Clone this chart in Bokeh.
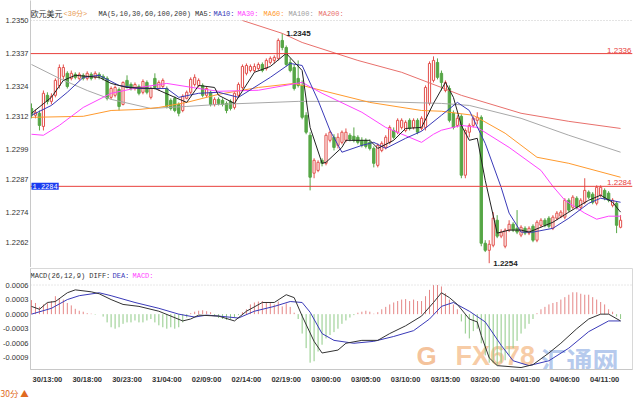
import math
from bokeh.plotting import figure
from bokeh.layouts import column
from bokeh.models import Range1d, FixedTicker, NumeralTickFormatter, Span, Label, Title, ColumnDataSource
from bokeh.embed import file_html
from bokeh.resources import INLINE

# ---------------- data (EUR/USD, 30-minute bars) ----------------
open_ = [
    1.23152, 1.23125, 1.23133, 1.23081, 1.23204, 1.23180, 1.23204, 1.23243, 1.23279, 1.23291,
    1.23271, 1.23287, 1.23271, 1.23283, 1.23271, 1.23287, 1.23275, 1.23287, 1.23279, 1.23271,
    1.23196, 1.23204, 1.23227, 1.23168, 1.23263, 1.23247, 1.23231, 1.23239, 1.23216, 1.23255,
    1.23196, 1.23271, 1.23231, 1.23239, 1.23231, 1.23184, 1.23192, 1.23168, 1.23144, 1.23192,
    1.23216, 1.23247, 1.23243, 1.23243, 1.23204, 1.23216, 1.23168, 1.23188, 1.23184, 1.23172,
    1.23180, 1.23156, 1.23204, 1.23235, 1.23291, 1.23302, 1.23302, 1.23310, 1.23326, 1.23310,
    1.23334, 1.23342, 1.23350, 1.23421, 1.23393, 1.23334, 1.23314, 1.23271, 1.23243, 1.23125,
    1.23046, 1.22896, 1.22907, 1.22947, 1.22935, 1.23026, 1.23038, 1.23006, 1.23018, 1.23026,
    1.23046, 1.23042, 1.23038, 1.23026, 1.23026, 1.23018, 1.22994, 1.22927, 1.22986, 1.22998,
    1.23018, 1.23065, 1.23058, 1.23077, 1.23065, 1.23105, 1.23077, 1.23105, 1.23073, 1.23077,
    1.23172, 1.23263, 1.23334, 1.23291, 1.23223, 1.23231, 1.23133, 1.23085, 1.23121, 1.22888,
    1.23058, 1.23085, 1.23105, 1.23117, 1.22619, 1.22591, 1.22611, 1.22710, 1.22647, 1.22607,
    1.22671, 1.22694, 1.22678, 1.22651, 1.22678, 1.22659, 1.22686, 1.22631, 1.22690, 1.22710,
    1.22718, 1.22678, 1.22718, 1.22726, 1.22722, 1.22789, 1.22761, 1.22797, 1.22761, 1.22781,
    1.22821, 1.22813, 1.22777, 1.22809, 1.22828, 1.22817, 1.22769, 1.22777, 1.22682,
]
high_ = [
    1.23172, 1.23148, 1.23144, 1.23223, 1.23216, 1.23212, 1.23271, 1.23326, 1.23326, 1.23299,
    1.23302, 1.23295, 1.23295, 1.23291, 1.23299, 1.23295, 1.23299, 1.23295, 1.23287, 1.23279,
    1.23239, 1.23243, 1.23235, 1.23259, 1.23283, 1.23255, 1.23255, 1.23247, 1.23267, 1.23263,
    1.23239, 1.23291, 1.23263, 1.23271, 1.23239, 1.23192, 1.23200, 1.23176, 1.23208, 1.23223,
    1.23275, 1.23287, 1.23271, 1.23251, 1.23239, 1.23223, 1.23196, 1.23196, 1.23192, 1.23180,
    1.23188, 1.23216, 1.23255, 1.23326, 1.23330, 1.23326, 1.23330, 1.23334, 1.23334, 1.23350,
    1.23358, 1.23362, 1.23429, 1.23450, 1.23401, 1.23350, 1.23326, 1.23342, 1.23263, 1.23137,
    1.23058, 1.22955, 1.22947, 1.22955, 1.23054, 1.23065, 1.23050, 1.23054, 1.23065, 1.23073,
    1.23054, 1.23077, 1.23046, 1.23038, 1.23034, 1.23030, 1.23002, 1.23014, 1.23022, 1.23046,
    1.23085, 1.23077, 1.23113, 1.23113, 1.23105, 1.23113, 1.23113, 1.23113, 1.23121, 1.23243,
    1.23338, 1.23358, 1.23350, 1.23302, 1.23263, 1.23243, 1.23144, 1.23125, 1.23129, 1.23073,
    1.23093, 1.23121, 1.23137, 1.23125, 1.22631, 1.22631, 1.22742, 1.22730, 1.22674, 1.22678,
    1.22710, 1.22702, 1.22750, 1.22690, 1.22686, 1.22686, 1.22694, 1.22710, 1.22718, 1.22718,
    1.22726, 1.22730, 1.22746, 1.22750, 1.22797, 1.22797, 1.22809, 1.22805, 1.22797, 1.22876,
    1.22828, 1.22821, 1.22848, 1.22848, 1.22836, 1.22825, 1.22797, 1.22785, 1.22730,
]
low_ = [
    1.23113, 1.23113, 1.23065, 1.23065, 1.23168, 1.23168, 1.23196, 1.23231, 1.23267, 1.23231,
    1.23263, 1.23267, 1.23263, 1.23263, 1.23263, 1.23263, 1.23267, 1.23267, 1.23263, 1.23184,
    1.23188, 1.23196, 1.23144, 1.23164, 1.23231, 1.23223, 1.23223, 1.23204, 1.23208, 1.23208,
    1.23188, 1.23227, 1.23223, 1.23231, 1.23152, 1.23144, 1.23137, 1.23121, 1.23137, 1.23188,
    1.23208, 1.23239, 1.23235, 1.23196, 1.23196, 1.23160, 1.23160, 1.23164, 1.23160, 1.23133,
    1.23144, 1.23148, 1.23196, 1.23227, 1.23283, 1.23295, 1.23295, 1.23302, 1.23295, 1.23302,
    1.23326, 1.23330, 1.23342, 1.23382, 1.23318, 1.23295, 1.23223, 1.23235, 1.23109, 1.23050,
    1.22828, 1.22876, 1.22900, 1.22923, 1.22927, 1.23018, 1.22986, 1.22994, 1.23010, 1.23018,
    1.23022, 1.23018, 1.23010, 1.22998, 1.22994, 1.22986, 1.22919, 1.22919, 1.22979, 1.22990,
    1.23010, 1.23030, 1.23050, 1.23069, 1.23058, 1.23065, 1.23069, 1.23050, 1.23065, 1.23065,
    1.23164, 1.23255, 1.23267, 1.23223, 1.23216, 1.23097, 1.23069, 1.23077, 1.22876, 1.22876,
    1.23038, 1.23077, 1.23089, 1.22607, 1.22584, 1.22540, 1.22603, 1.22639, 1.22639, 1.22599,
    1.22663, 1.22663, 1.22655, 1.22643, 1.22651, 1.22651, 1.22623, 1.22623, 1.22682, 1.22682,
    1.22678, 1.22671, 1.22710, 1.22718, 1.22714, 1.22742, 1.22753, 1.22753, 1.22753, 1.22773,
    1.22793, 1.22773, 1.22769, 1.22801, 1.22789, 1.22781, 1.22761, 1.22659, 1.22678,
]
close_ = [
    1.23125, 1.23137, 1.23085, 1.23212, 1.23180, 1.23200, 1.23263, 1.23314, 1.23314, 1.23239,
    1.23291, 1.23275, 1.23287, 1.23271, 1.23291, 1.23271, 1.23291, 1.23279, 1.23271, 1.23192,
    1.23231, 1.23235, 1.23160, 1.23255, 1.23235, 1.23231, 1.23247, 1.23212, 1.23259, 1.23216,
    1.23231, 1.23235, 1.23255, 1.23263, 1.23160, 1.23152, 1.23144, 1.23133, 1.23200, 1.23216,
    1.23267, 1.23275, 1.23263, 1.23204, 1.23231, 1.23168, 1.23188, 1.23172, 1.23168, 1.23144,
    1.23152, 1.23212, 1.23247, 1.23318, 1.23322, 1.23318, 1.23318, 1.23326, 1.23302, 1.23342,
    1.23350, 1.23354, 1.23421, 1.23393, 1.23326, 1.23302, 1.23231, 1.23243, 1.23117, 1.23058,
    1.22880, 1.22947, 1.22939, 1.22935, 1.23046, 1.23058, 1.22998, 1.23038, 1.23058, 1.23058,
    1.23030, 1.23026, 1.23018, 1.23006, 1.23002, 1.22994, 1.22935, 1.23006, 1.23014, 1.23038,
    1.23077, 1.23038, 1.23105, 1.23105, 1.23097, 1.23073, 1.23105, 1.23058, 1.23113, 1.23235,
    1.23330, 1.23342, 1.23275, 1.23255, 1.23255, 1.23105, 1.23077, 1.23113, 1.22888, 1.23065,
    1.23085, 1.23113, 1.23117, 1.22619, 1.22591, 1.22615, 1.22718, 1.22647, 1.22663, 1.22671,
    1.22694, 1.22671, 1.22663, 1.22682, 1.22659, 1.22678, 1.22631, 1.22702, 1.22710, 1.22690,
    1.22686, 1.22722, 1.22738, 1.22742, 1.22789, 1.22750, 1.22801, 1.22761, 1.22789, 1.22828,
    1.22801, 1.22781, 1.22840, 1.22840, 1.22797, 1.22789, 1.22789, 1.22690, 1.22710,
]

# moving averages (at sample bars)
ma5_x = [0, 5, 8, 11, 17, 20, 24, 31, 36, 39, 42, 46, 47, 51, 56, 60, 64, 68, 70, 73,
         74, 78, 79, 85, 87, 91, 94, 98, 101, 104, 106, 108, 110, 112, 114, 117, 120, 123, 125, 131,
         135, 140, 143, 146, 148]
ma5_y = [1.23133, 1.23196, 1.23263, 1.23283, 1.23275, 1.23251, 1.23235, 1.23231, 1.23196, 1.23176,
         1.23243, 1.23235, 1.23204, 1.23172, 1.23295, 1.23318, 1.23370, 1.23302, 1.23077, 1.22935,
         1.22939, 1.22998, 1.23026, 1.23026, 1.22994, 1.23026, 1.23073, 1.23077, 1.23172, 1.23255,
         1.23196, 1.23085, 1.23026, 1.23034, 1.22868, 1.22659, 1.22671, 1.22671, 1.22663, 1.22702,
         1.22742, 1.22789, 1.22809, 1.22781, 1.22742]
ma10_x = [0, 5, 9, 13, 17, 22, 27, 34, 37, 42, 47, 52, 60, 65, 68, 72, 75, 78, 83, 86,
          89, 94, 98, 103, 107, 110, 114, 118, 120, 123, 126, 131, 135, 140, 143, 148]
ma10_y = [1.23125, 1.23164, 1.23216, 1.23275, 1.23283, 1.23243, 1.23231, 1.23231, 1.23196, 1.23212,
          1.23216, 1.23196, 1.23275, 1.23330, 1.23322, 1.23184, 1.23065, 1.22979, 1.23006, 1.23018,
          1.22994, 1.23034, 1.23062, 1.23125, 1.23176, 1.23144, 1.23014, 1.22840, 1.22738, 1.22663,
          1.22663, 1.22678, 1.22718, 1.22777, 1.22797, 1.22781]
ma30_x = [0, 3, 7, 13, 20, 27, 34, 42, 47, 57, 68, 73, 83, 89, 98, 101, 103, 108, 112, 120,
          128, 131, 134, 139, 142, 145, 148]
ma30_y = [1.23050, 1.23046, 1.23085, 1.23156, 1.23212, 1.23235, 1.23251, 1.23231, 1.23220, 1.23224,
          1.23255, 1.23212, 1.23137, 1.23077, 1.23018, 1.23050, 1.23066, 1.23085, 1.23077, 1.22998,
          1.22907, 1.22844, 1.22789, 1.22738, 1.22714, 1.22726, 1.22726]
ma60_x = [0, 13, 20, 27, 32, 39, 47, 57, 66, 73, 85, 98, 103, 111, 119, 127, 135, 148]
ma60_y = [1.23117, 1.23121, 1.23144, 1.23148, 1.23156, 1.23176, 1.23208, 1.23235, 1.23251, 1.23223,
          1.23176, 1.23144, 1.23141, 1.23125, 1.23054, 1.22959, 1.22935, 1.22880]
ma100_x = [0, 7, 14, 20, 30, 39, 47, 67, 85, 103, 110, 123, 135, 148]
ma100_y = [1.23326, 1.23271, 1.23223, 1.23188, 1.23152, 1.23160, 1.23168, 1.23180, 1.23180, 1.23172,
           1.23164, 1.23113, 1.23046, 1.22979]
ma200_x = [53, 63, 68, 82, 93, 103, 108, 123, 135, 148]
ma200_y = [1.23500, 1.23449, 1.23413, 1.23342, 1.23295, 1.23235, 1.23204, 1.23133, 1.23101, 1.23073]

# MACD(26,12,9)
macd_hist = [
    0.00029, 0.00023, 0.00015, 0.00020, 0.00023, 0.00027, 0.00037, 0.00033, 0.00030, 0.00023,
    0.00018, 0.00011, 0.00007, 0.00005, 0.00002, 0.00001, -0.00001, 0.0, -0.00005, -0.00017,
    -0.00027, -0.00030, -0.00027, -0.00020, -0.00017, -0.00017, -0.00013, -0.00017, -0.00017, -0.00013,
    -0.00010, -0.00017, -0.00023, -0.00027, -0.00030, -0.00027, -0.00030, -0.00027, -0.00017, -0.00007,
    0.00002, 0.00005, 0.00007, 0.00008, 0.00006, 0.00004, -0.00004, -0.00008, -0.00010, -0.00012,
    -0.00010, -0.00006, -0.00002, 0.00004, 0.00010, 0.00020, 0.00024, 0.00026, 0.00027, 0.00024,
    0.00024, 0.00020, 0.00026, 0.00016, 0.00022, 0.00015, 0.00003, -0.00010, -0.00040, -0.00070,
    -0.00100, -0.00097, -0.00077, -0.00063, -0.00050, -0.00043, -0.00037, -0.00030, -0.00020, -0.00013,
    -0.00007, -0.00002, 0.00003, 0.00005, 0.00007, 0.00005, 0.00001, 0.00004, 0.00010, 0.00015,
    0.00020, 0.00024, 0.00027, 0.00030, 0.00031, 0.00027, 0.00030, 0.00027, 0.00027, 0.00037,
    0.00050, 0.00060, 0.00060, 0.00057, 0.00043, 0.00030, 0.00020, 0.00010, -0.00015, -0.00040,
    -0.00050, -0.00035, -0.00030, -0.00060, -0.00085, -0.00100, -0.00100, -0.00105, -0.00100, -0.00095,
    -0.00085, -0.00070, -0.00055, -0.00040, -0.00030, -0.00020, -0.00010, 0.00002, 0.00010, 0.00015,
    0.00020, 0.00023, 0.00025, 0.00030, 0.00035, 0.00040, 0.00045, 0.00045, 0.00042, 0.00040,
    0.00040, 0.00035, 0.00030, 0.00025, 0.00020, 0.00010, 0.00005, -0.00005, -0.00010,
]
diff_x = [0, 2, 4, 6, 9, 11, 15, 17, 20, 23, 27, 32, 35, 38, 40, 42, 47, 51, 54, 58,
          61, 64, 66, 68, 71, 73, 77, 79, 83, 87, 90, 94, 98, 101, 103, 105, 107, 110, 112, 113,
          115, 117, 123, 126, 130, 133, 137, 140, 143, 145, 148]
diff_y = [0.00016, 0.00010, 0.00024, 0.00026, 0.00044, 0.00050, 0.00046, 0.00042, 0.00030, 0.00020,
          0.00016, 0.00006, -0.00004, -0.00014, -0.00010, -0.00002, -0.00004, -0.00014, 0.00006, 0.00024,
          0.00024, 0.00040, 0.00034, -0.00004, -0.00056, -0.00080, -0.00074, -0.00060, -0.00054, -0.00054,
          -0.00040, -0.00024, -0.00004, 0.00024, 0.00044, 0.00034, 0.00020, -0.00010, -0.00016, -0.00044,
          -0.00090, -0.00106, -0.00110, -0.00104, -0.00080, -0.00060, -0.00030, -0.00010, 0.0, 0.0,
          -0.00014]
dea_x = [0, 5, 9, 12, 17, 20, 26, 32, 37, 41, 44, 47, 52, 56, 61, 65, 68, 70, 73, 76,
         81, 86, 91, 96, 100, 103, 106, 110, 114, 118, 121, 125, 130, 135, 140, 145, 148]
dea_y = [0.0, 0.00012, 0.00030, 0.00038, 0.00044, 0.00038, 0.00024, 0.00012, 0.0, -0.00006,
         -0.00002, -0.00004, -0.00008, 0.00006, 0.00016, 0.00026, 0.00024, 0.00004, -0.00040, -0.00054,
         -0.00060, -0.00056, -0.00046, -0.00034, -0.00010, 0.00016, 0.00024, 0.00006, -0.00016, -0.00064,
         -0.00096, -0.00106, -0.00096, -0.00070, -0.00036, -0.00014, -0.00014]

tick_bars = [4, 14, 24, 34, 44, 54, 64, 74, 84, 94, 104, 114, 124, 134, 144]
tick_labels = ["30/13:00", "30/18:00", "30/23:00", "31/04:00", "02/09:00", "02/14:00", "02/19:00",
               "03/00:00", "03/05:00", "03/10:00", "03/15:00", "03/20:00", "04/01:00", "04/06:00",
               "04/11:00"]
price_ticks = [1.2262, 1.2274, 1.2287, 1.2299, 1.2312, 1.2324, 1.2337, 1.2350]
macd_ticks = [-0.0009, -0.0006, -0.0003, 0.0, 0.0003, 0.0006]
level_hi = 1.23369
level_lo = 1.22844

# ---------------- styling ----------------
RED = "#e2504c"
GREEN = "#56a646"
W = 640
LB = 30
RB = 8
AX_FONT = "Liberation Sans"
MONO = "Liberation Mono, Noto Sans CJK SC"
CJK = "Noto Sans CJK SC"


def trunc4(v):
    return "%.4f" % (math.floor(v * 10000 + 1e-9) / 10000.0)


n = len(close_)
bars = list(range(n))
up = [c >= o for o, c in zip(open_, close_)]


def subset(flag):
    idx = [i for i in bars if up[i] == flag]
    return ColumnDataSource(dict(
        x=idx,
        top=[max(open_[i], close_[i]) for i in idx],
        bottom=[min(open_[i], close_[i]) for i in idx],
        high=[high_[i] for i in idx],
        low=[low_[i] for i in idx],
    ))


src_up = subset(True)
src_dn = subset(False)

x_rng = Range1d(-0.25, 151.0)

# ---------------- main price panel ----------------
MAIN_H = 267
p = figure(width=W, height=MAIN_H, x_range=x_rng, y_range=Range1d(1.22523, 1.23579),
           output_backend="svg", toolbar_location=None, title=None, x_axis_location=None,
           min_border_left=LB, min_border_right=RB, min_border_top=0, min_border_bottom=0,
           outline_line_color=None, background_fill_color="white", border_fill_color="white")
p.xgrid.visible = False
p.ygrid.visible = False
p.yaxis.ticker = FixedTicker(ticks=price_ticks)
p.yaxis.formatter = NumeralTickFormatter(format="0.0000")

# top dotted boundary
p.add_layout(Span(location=price_ticks[-1], dimension="width", line_color="#c8c8c8",
                  line_width=1, line_dash="1 2"))

# candles
p.segment(x0="x", y0="low", x1="x", y1="high", source=src_dn, line_color=GREEN, line_width=1)
p.vbar(x="x", top="top", bottom="bottom", width=0.6, source=src_dn,
       fill_color=GREEN, line_color=GREEN, line_width=1)
p.segment(x0="x", y0="low", x1="x", y1="high", source=src_up, line_color=RED, line_width=1)
p.vbar(x="x", top="top", bottom="bottom", width=0.55, source=src_up,
       fill_color="white", line_color=RED, line_width=1)

# moving averages
p.line(ma200_x, ma200_y, line_color="#e8706c", line_width=1)
p.line(ma100_x, ma100_y, line_color="#a8a8a8", line_width=1)
p.line(ma60_x, ma60_y, line_color="#ff9a2e", line_width=1)
p.line(ma30_x, ma30_y, line_color="#ff44ff", line_width=1)
p.line(ma10_x, ma10_y, line_color="#3a3ab8", line_width=1)
p.line(ma5_x, ma5_y, line_color="#222222", line_width=1)

# horizontal price levels
p.add_layout(Span(location=level_hi, dimension="width", line_color="#e8403c", line_width=1))
p.add_layout(Span(location=level_lo, dimension="width", line_color="#e8403c", line_width=1))
p.add_layout(Label(x=x_rng.end, y=level_hi, text=trunc4(level_hi), text_align="right",
                   text_baseline="bottom", x_offset=-1, y_offset=1, text_color="#e8403c",
                   text_font=AX_FONT, text_font_size="8px"))
p.add_layout(Label(x=x_rng.end, y=level_lo, text=trunc4(level_lo), text_align="right",
                   text_baseline="bottom", x_offset=-1, y_offset=1, text_color="#e8403c",
                   text_font=AX_FONT, text_font_size="8px"))
p.add_layout(Label(x=x_rng.start, y=level_lo, text=trunc4(level_lo), text_align="left",
                   text_baseline="middle", x_offset=1, text_color="white",
                   background_fill_color="#1a3cf0", text_font="Liberation Mono",
                   text_font_size="7px", padding=1))

# extreme markers
i_hi = max(bars, key=lambda i: high_[i])
i_lo = min(bars, key=lambda i: low_[i])
p.add_layout(Label(x=i_hi, y=high_[i_hi], text=trunc4(high_[i_hi]), x_offset=4,
                   text_baseline="middle", text_font=AX_FONT, text_font_style="bold",
                   text_font_size="8px", text_color="#222222"))
p.add_layout(Label(x=i_lo, y=low_[i_lo], text=trunc4(low_[i_lo]), x_offset=4,
                   text_baseline="middle", text_font=AX_FONT, text_font_style="bold",
                   text_font_size="8px", text_color="#222222"))

# title row
title_parts = [
    (0, "欧元美元", "#333333", CJK, "8px"),
    (33, "<30分>", "#e89a50", MONO, "7px"),
    (68, "MA(5,10,30,60,100,200) MA5:", "#333333", MONO, "7px"),
    (183, "MA10:", "#3a3ab8", MONO, "7px"),
    (207, "MA30:", "#ff44ff", MONO, "7px"),
    (233, "MA60:", "#ff9a2e", MONO, "7px"),
    (258, "MA100:", "#a0a0a0", MONO, "7px"),
    (288, "MA200:", "#e8706c", MONO, "7px"),
]
for sx, txt, col, fnt, fs in title_parts:
    p.add_layout(Label(x=sx, y=MAIN_H - 13, x_units="screen", y_units="screen", text=txt,
                       text_color=col, text_font=fnt, text_font_size=fs, text_baseline="middle"))

# ---------------- MACD panel ----------------
p2 = figure(width=W, height=400 - MAIN_H, x_range=x_rng, y_range=Range1d(-0.00114, 0.00094),
            output_backend="svg", toolbar_location=None, title=None,
            min_border_left=LB, min_border_right=RB, min_border_top=1, min_border_bottom=28,
            outline_line_color="#d8d8d8", background_fill_color="white", border_fill_color="white")
p2.xgrid.visible = False
p2.ygrid.visible = False
p2.yaxis.ticker = FixedTicker(ticks=macd_ticks)
p2.yaxis.formatter = NumeralTickFormatter(format="0.0000")
p2.xaxis.ticker = FixedTicker(ticks=tick_bars)
p2.xaxis.major_label_overrides = {t: l for t, l in zip(tick_bars, tick_labels)}

p2.add_layout(Span(location=macd_ticks[-1], dimension="width", line_color="#d0d0d0",
                   line_width=1, line_dash="1 2"))

# watermark (underneath the indicator lines)
p2.add_layout(Label(x=386, y=29, x_units="screen", y_units="screen", text="G",
                    text_color="#f0a870", text_alpha=0.7, text_font="Liberation Sans",
                    text_font_style="bold", text_font_size="26px", text_baseline="top",
                    level="underlay"))
p2.add_layout(Label(x=425, y=29, x_units="screen", y_units="screen", text="FX678",
                    text_color="#f6c396", text_alpha=0.85, text_font="Liberation Sans",
                    text_font_style="bold", text_font_size="27px", text_baseline="top",
                    level="underlay"))
p2.add_layout(Label(x=510, y=29, x_units="screen", y_units="screen", text="汇通网",
                    text_color="#a9c1ea", text_alpha=0.85, text_font=CJK,
                    text_font_style="bold", text_font_size="26px", text_baseline="top",
                    level="underlay"))

pos_x = [i for i in bars if macd_hist[i] >= 0]
neg_x = [i for i in bars if macd_hist[i] < 0]
p2.segment(x0=pos_x, y0=[0.0] * len(pos_x), x1=pos_x, y1=[macd_hist[i] for i in pos_x],
           line_color="#e58686", line_width=1)
p2.segment(x0=neg_x, y0=[0.0] * len(neg_x), x1=neg_x, y1=[macd_hist[i] for i in neg_x],
           line_color="#8fca86", line_width=1)
p2.line(dea_x, dea_y, line_color="#3a3ab8", line_width=1)
p2.line(diff_x, diff_y, line_color="#333333", line_width=1)

macd_parts = [
    (0, "MACD(26,12,9) DIFF:", "#333333"),
    (82, "DEA:", "#3a3ab8"),
    (102, "MACD:", "#ff44ff"),
]
for sx, txt, col in macd_parts:
    p2.add_layout(Label(x=sx, y=94, x_units="screen", y_units="screen", text=txt,
                        text_color=col, text_font=MONO, text_font_size="7px",
                        text_baseline="middle"))

# period selector in the bottom-left corner (placed in the border below the axis)
p2.add_layout(Title(text="30分 ▲", align="left", offset=-30, standoff=0,
                    vertical_align="top",
                    text_color="#e06a20", text_font=CJK, text_font_size="8.5px",
                    text_font_style="normal", text_line_height=1.0), "below")

# axes styling
for ax in (p.yaxis[0], p2.yaxis[0], p2.xaxis[0]):
    ax.axis_line_color = "#c8c8c8"
    ax.major_tick_line_color = None
    ax.minor_tick_line_color = None
    ax.major_tick_out = 0
    ax.major_tick_in = 0
    ax.major_label_text_font = AX_FONT
    ax.major_label_text_color = "#333333"
    ax.major_label_text_font_size = "7.5px"
    ax.major_label_standoff = 2
p2.xaxis.major_label_text_font_style = "bold"
p2.xaxis.major_label_standoff = 5

layout = column(p, p2, spacing=0)
open("out.html", "w").write(file_html(layout, INLINE))
